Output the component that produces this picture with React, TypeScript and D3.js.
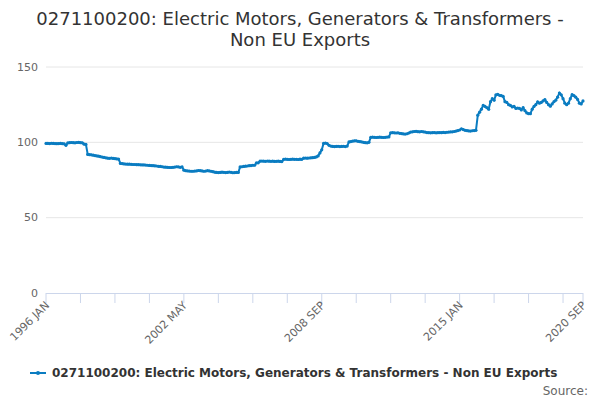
import * as d3 from 'd3'

const START_YEAR = 1996
const MONTHS = ['JAN', 'FEB', 'MAR', 'APR', 'MAY', 'JUN', 'JUL', 'AUG', 'SEP', 'OCT', 'NOV', 'DEC']

// monthly index values, Jan 1996 .. Sep 2020
const values: number[] = [
  99.3, 99.3, 99.2, 99.4, 99.3, 99.2, 99.1, 99.2, 99.3, 99.1, 99.0, 98.0,
  99.6, 99.8, 99.9, 99.8, 99.7, 99.9, 100.0, 99.8, 99.7, 98.8, 98.6, 92.0,
  91.8, 91.7, 91.5, 91.2, 91.0, 90.8, 90.5, 90.2, 90.0, 89.7, 89.5, 89.4,
  89.6, 89.3, 89.2, 89.0, 88.9, 86.0, 85.9, 85.7, 85.6, 85.5, 85.5, 85.4,
  85.3, 85.3, 85.2, 85.2, 85.1, 85.0, 85.0, 84.9, 84.8, 84.7, 84.6, 84.5,
  84.4, 84.3, 84.1, 84.0, 83.8, 83.6, 83.5, 83.4, 83.3, 83.3, 83.4, 83.6,
  83.8, 83.7, 83.4, 83.7, 81.5, 81.2, 81.0, 80.9, 80.8, 80.8, 80.9, 81.0,
  81.3, 81.2, 81.0, 80.8, 80.9, 81.2, 81.0, 80.8, 80.5, 80.2, 80.0, 79.9,
  80.0, 80.2, 80.1, 79.9, 80.0, 80.3, 80.1, 79.8, 79.9, 80.0, 80.0, 83.7,
  83.8, 84.0, 84.2, 84.3, 84.5, 84.6, 84.8, 84.8, 86.3, 86.4, 87.5, 87.6,
  87.5, 87.4, 87.6, 87.5, 87.4, 87.5, 87.3, 87.4, 87.5, 87.3, 87.2, 88.7,
  88.8, 88.7, 88.6, 88.7, 88.8, 88.7, 88.7, 88.6, 88.8, 88.7, 89.5, 89.6,
  89.5, 89.6, 89.7, 89.8, 90.0, 90.3, 91.0, 93.0, 95.0, 99.3, 99.5, 99.2,
  98.0, 97.5, 97.3, 97.2, 97.3, 97.4, 97.2, 97.3, 97.4, 97.2, 97.5, 100.3,
  100.5, 100.8, 101.0, 101.0, 100.7, 100.5, 100.3, 100.0, 99.8, 99.7, 100.0, 103.3,
  103.4, 103.3, 103.2, 103.3, 103.4, 103.3, 103.2, 103.3, 103.5, 103.6, 106.3, 106.4,
  106.3, 106.2, 106.3, 106.0, 105.8, 105.6, 105.5, 105.7, 106.2, 106.8, 107.0, 107.2,
  107.3, 107.1, 107.0, 107.2, 107.0, 106.8, 106.5, 106.4, 106.3, 106.4, 106.5, 106.3,
  106.4, 106.5, 106.4, 106.6, 106.5, 106.7, 106.8, 106.9, 107.0, 107.2, 107.5, 107.8,
  108.2, 109.0, 108.5, 108.0, 107.8, 107.6, 107.5, 107.7, 107.8, 108.0, 118.0, 120.0,
  122.0, 124.5, 123.8, 123.0, 122.0, 127.0, 129.0, 128.0, 131.5, 131.8, 131.2, 131.0,
  130.5, 127.0, 126.5, 125.0, 124.5, 123.5, 123.8, 122.5, 122.8, 122.5, 121.5, 123.0,
  121.0, 119.5, 119.0, 119.0, 122.0, 123.8, 125.0, 126.8, 126.0, 126.5, 127.5, 128.3,
  126.5, 125.0, 124.0, 125.5, 127.0, 128.0, 130.0, 132.7, 131.5, 129.0, 126.0, 125.0,
  126.0, 129.0, 131.6, 131.0, 130.0, 128.5, 126.0, 125.5, 127.5,
]

const yTicks = [0, 50, 100, 150]
const labelIndexes = [0, 76, 152, 228, 296]
const minorIndexes = [...d3.range(0, 296, 19), 296]

const SERIES_NAME = '0271100200: Electric Motors, Generators & Transformers - Non EU Exports'
const COLOR = '#0a7cc1'
const FONT = '"DejaVu Sans", Verdana, sans-serif'

function monthLabel(i: number) {
  return `${START_YEAR + Math.floor(i / 12)} ${MONTHS[i % 12]}`
}

export default function App() {
  const x = d3.scaleLinear().domain([0, values.length - 1]).range([46, 583])
  const y = d3.scaleLinear().domain([0, 150]).range([293, 67])
  const line = d3
    .line<number>()
    .x((_, i) => x(i))
    .y((d) => y(d))

  return (
    <svg width={600} height={400} style={{ position: 'absolute', left: 0, top: 0, fontFamily: FONT }}>
      <rect width={600} height={400} fill="#fff" />
      <text x={300} y={25} textAnchor="middle" fontSize={18} fill="#333">
        0271100200: Electric Motors, Generators &amp; Transformers -
      </text>
      <text x={300} y={46} textAnchor="middle" fontSize={18} fill="#333">
        Non EU Exports
      </text>

      {yTicks.map((t) => (
        <g key={t}>
          {t > 0 && <line x1={46} x2={583} y1={y(t)} y2={y(t)} stroke="#e6e6e6" />}
          <text x={38} y={y(t)} dy="0.32em" textAnchor="end" fontSize={11} fill="#666">
            {t}
          </text>
        </g>
      ))}

      <line x1={46} x2={583} y1={293.5} y2={293.5} stroke="#ccd6eb" />
      {minorIndexes.map((i) => (
        <line key={i} x1={x(i)} x2={x(i)} y1={293} y2={303} stroke="#ccd6eb" />
      ))}
      {labelIndexes.map((i) => (
        <text
          key={i}
          transform={`translate(${x(i) + 4} ${306}) rotate(-45)`}
          textAnchor="end"
          fontSize={11}
          fill="#666"
        >
          {monthLabel(i)}
        </text>
      ))}

      <path d={line(values) ?? undefined} fill="none" stroke={COLOR} strokeWidth={2} />
      {values.map((v, i) => (
        <circle key={i} cx={x(i)} cy={y(v)} r={1.6} fill={COLOR} />
      ))}

      <line x1={30} x2={46} y1={373} y2={373} stroke={COLOR} strokeWidth={2} />
      <circle cx={38} cy={373} r={2} fill={COLOR} />
      <text x={52} y={377} fontSize={12} fontWeight="bold" fill="#333">
        {SERIES_NAME}
      </text>
      <text x={588} y={395} textAnchor="end" fontSize={12} fill="#666">
        Source:
      </text>
    </svg>
  )
}
